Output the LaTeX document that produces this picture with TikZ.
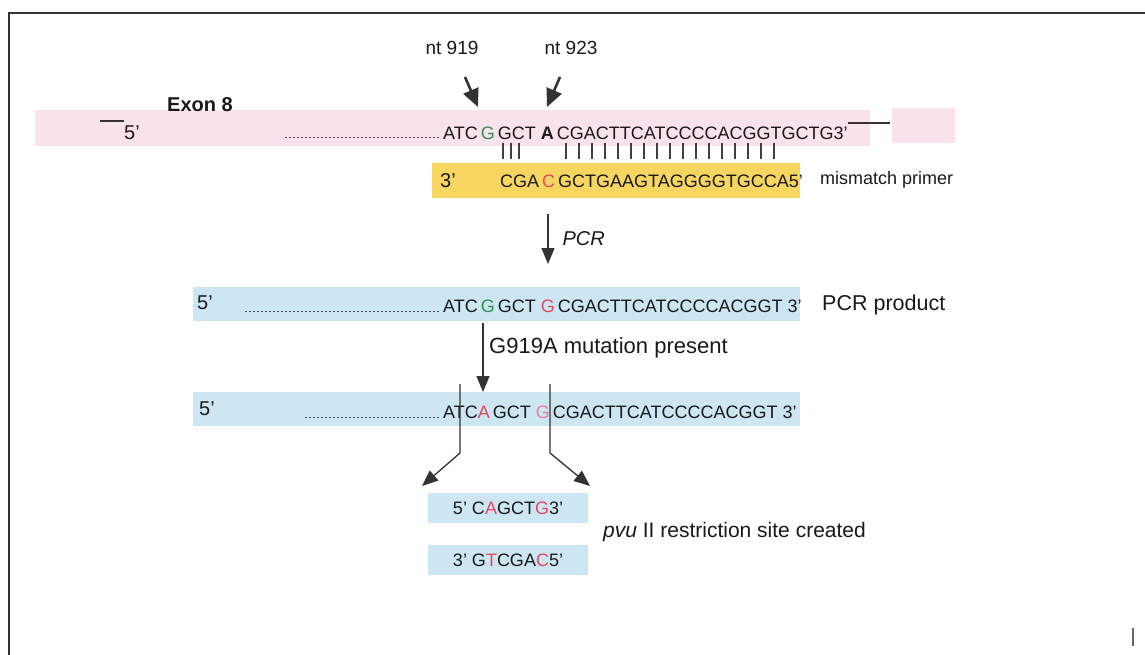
\documentclass[tikz,border=0pt]{standalone}
\usepackage{fontspec}
\setmainfont{Liberation Sans}
\usetikzlibrary{arrows.meta,positioning}
\definecolor{exonpink}{RGB}{250,226,236}
\definecolor{primeryellow}{RGB}{246,214,96}
\definecolor{prodblue}{RGB}{204,230,243}
\definecolor{ntgreen}{RGB}{50,140,80}
\definecolor{ntred}{RGB}{226,72,92}
\begin{document}
\begin{tikzpicture}[x=1pt,y=-1pt,
  seq/.style={font=\fontsize{18}{20}\selectfont,inner sep=0pt,anchor=base west,text=black!90},
  lbl/.style={font=\fontsize{20}{22}\selectfont,inner sep=0pt,text=black!90},
  fat arrow/.style={-{Triangle[length=18pt,width=16pt]},line width=2.6pt,black!80},
  thin arrow/.style={-{Triangle[length=16pt,width=13pt]},line width=1.3pt,black!80},
  dots/.style={dash pattern=on 2pt off 2pt,line width=1pt,black!70}]
\useasboundingbox (0,0) rectangle (1145,655);
\draw[line width=1.5pt,black!80] (1145,13) -- (9,13) -- (9,655);
\draw[line width=1.2pt,black!60] (1133,628) -- (1133,646);
\fill[exonpink] (35,110) rectangle (870,146);
\fill[exonpink] (892,108) rectangle (955,143);
\fill[primeryellow] (432,163) rectangle (800,198);
\fill[prodblue] (193,287) rectangle (800,321);
\fill[prodblue] (193,392) rectangle (800,426);
\fill[prodblue] (428,493) rectangle (588,523);
\fill[prodblue] (428,545) rectangle (588,575);
\node[lbl,font=\bfseries\fontsize{20}{22}\selectfont] (exon) at (200,105) {Exon 8};
\node[lbl,font=\fontsize{19}{21}\selectfont] (nt919) at (452,48) {nt 919};
\node[lbl,font=\fontsize{19}{21}\selectfont] (nt923) at (571,48) {nt 923};
\coordinate (g919) at (478,107);
\coordinate (a923) at (547,107);
\draw[fat arrow] ([shift={(13,22)}]nt919.south) -- (g919);
\draw[fat arrow] ([shift={(-11,22)}]nt923.south) -- (a923);
\coordinate (head5) at (100,121);
\node[lbl] (five1) at (132,133) {5'};
\draw[line width=1.2pt,black!80] (head5) -- (head5 -| five1.west);
\draw[dots] (285,138) -- (440,138);
\node[seq] (exonseq) at (443,140) {ATC\,\textcolor{ntgreen}{G}\,GCT \textbf{A}\,CGACTTCATCCCCACGGTGCTG3'};
\coordinate (tail3) at (890,123);
\draw[line width=1.2pt,black!80] (exonseq.east |- tail3) -- (tail3);
\foreach \x in {503,511,519} { \draw[line width=1.5pt,black!75] (\x,143) -- (\x,159); }
\foreach \x in {566,579,...,774} { \draw[line width=1.5pt,black!75] (\x,143) -- (\x,159); }
\node[lbl,anchor=west] (three1) at (440,181) {3'};
\node[seq] (primerseq) at (500,188) {CGA\,\textcolor{ntred}{C}\,GCTGAAGTAGGGGTGCCA5'};
\node[lbl,anchor=west,font=\fontsize{18}{20}\selectfont] (mism) at (820,180) {mismatch primer};
\coordinate (pcrtop) at (548,214);
\coordinate (pcrbot) at (548,264);
\draw[thin arrow] (pcrtop) -- node[lbl,right=14pt,font=\itshape\fontsize{20}{22}\selectfont] (pcr) {PCR} (pcrbot);
\node[lbl] (five2) at (205,303) {5'};
\draw[dots] (245,311) -- (440,311);
\node[seq] (prodseq) at (443,312) {ATC\,\textcolor{ntgreen}{G}\,GCT \textcolor{ntred}{G}\,CGACTTCATCCCCACGGT 3'};
\node[lbl,anchor=west,font=\fontsize{21.5}{23}\selectfont] (prod) at (822,305) {PCR product};
\coordinate (mutop) at (483,323);
\coordinate (mubot) at (483,392);
\draw[thin arrow] (mutop) -- (mubot);
\node[lbl,anchor=west,font=\fontsize{22}{24}\selectfont] (mut) at (489,348) {G919A mutation present};
\node[lbl] (five3) at (207,409) {5'};
\draw[dots] (305,417) -- (440,417);
\node[seq] (mutseq) at (443,418) {ATC\textcolor{ntred}{A}\,GCT \textcolor{ntred!70}{G}\,CGACTTCATCCCCACGGT 3'};
\coordinate (cutl) at (460,384);
\coordinate (cutr) at (550,384);
\coordinate (tipl) at (422,486);
\coordinate (tipr) at (590,486);
\draw[thin arrow] (cutl) -- ++(0,69) -- (tipl);
\draw[thin arrow] (cutr) -- ++(0,69) -- (tipr);
\node[seq,anchor=center] (site1) at (508,508) {5' C\textcolor{ntred}{A}GCT\textcolor{ntred}{G}3'};
\node[seq,anchor=center] (site2) at (508,560) {3' G\textcolor{ntred}{T}CGA\textcolor{ntred}{C}5'};
\node[lbl,anchor=west,font=\fontsize{21}{23}\selectfont] (pvu) at (603,532) {\textit{pvu} II restriction site created};
\end{tikzpicture}
\end{document}
